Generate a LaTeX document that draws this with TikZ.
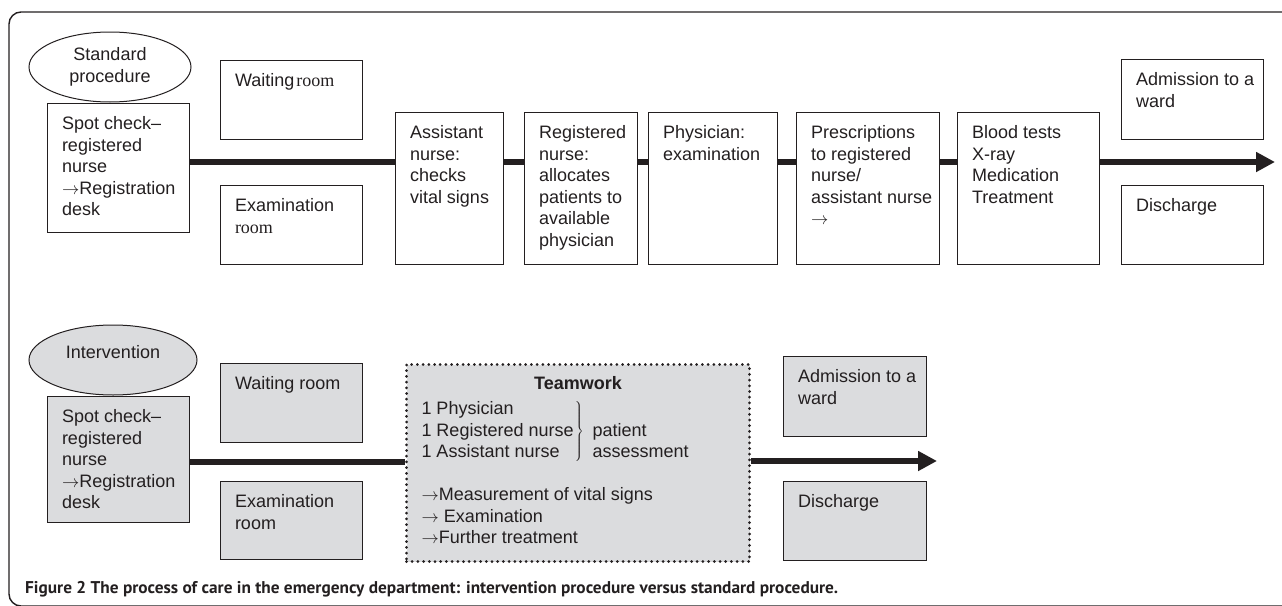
\documentclass[tikz,border=0pt]{standalone}
\usepackage{fontspec}
\setmainfont{Liberation Sans}
\newfontfamily\serifroom{Liberation Serif}
\newfontfamily\captionfont{PT Sans}
\usepackage{graphicx}
\usepackage{xcolor}
\usetikzlibrary{shapes.geometric, arrows.meta, positioning, calc}

\definecolor{boxgray}{RGB}{219,220,222}
\definecolor{ink}{RGB}{35,31,32}

% text of a box: top aligned, with a fixed inset on the left
\newcommand{\boxtext}[3]{\parbox[c][\dimexpr#2-26pt\relax][t]{#1}{\raggedright\leftskip=14.5pt\relax #3}}

\begin{document}
\begin{tikzpicture}[
    x=1pt, y=-1pt,
    font=\fontsize{18}{21.5}\selectfont,
    cell/.style={rectangle, draw=ink, line width=1pt, anchor=north west, inner xsep=0pt, inner ysep=13pt, text=ink},
    grey/.style={cell, fill=boxgray},
    oval/.style={ellipse, draw=ink, line width=1pt, inner sep=0pt, minimum width=#1, minimum height=70pt, align=center, text=ink},
    team/.style={rectangle, draw=ink, fill=boxgray, line width=3pt, dash pattern=on 0pt off 5.7pt, line cap=round, anchor=north west, inner xsep=0pt, inner ysep=12pt, text=ink},
    flow/.style={draw=ink, line width=6.5pt},
    arrow/.style={flow, -{Triangle[length=19pt, width=19pt]}}
]
\useasboundingbox (0,0) rectangle (1282,605);

% frame
\draw[ink, line width=1.4pt, rounded corners=12pt] (1300,12) -- (9,12) -- (9,606) -- (1300,606);

% standard procedure
\node[oval=162pt] (std) at (110,67) {Standard\\procedure};
\node[cell] (spot) at (47,103) {\boxtext{142pt}{129pt}{Spot check--\\registered\\nurse\\$\rightarrow$Registration\\desk}};
\node[cell] (wait) at (220,60) {\boxtext{142pt}{79pt}{Waiting\kern2pt{\serifroom room}}};
\node[cell] (exam) at (220,185) {\boxtext{142pt}{79pt}{Examination\\{\serifroom room}}};
\node[cell] (assist) at (395,112) {\boxtext{108pt}{152pt}{Assistant\\nurse:\\checks\\vital signs}};
\node[cell] (regn) at (524,112) {\boxtext{113pt}{152pt}{Registered\\nurse:\\allocates\\patients to\\available\\physician}};
\node[cell] (phys) at (648,112) {\boxtext{129pt}{152pt}{Physician:\\examination}};
\node[cell] (presc) at (796,112) {\boxtext{143pt}{152pt}{Prescriptions\\to registered\\nurse/\\assistant nurse\\$\rightarrow$}};
\node[cell] (blood) at (957,112) {\boxtext{142pt}{152pt}{Blood tests\\X-ray\\Medication\\Treatment}};
\node[cell] (admit) at (1121,59) {\boxtext{142pt}{80pt}{Admission to a\\ward}};
\node[cell] (disch) at (1121,185) {\boxtext{142pt}{79pt}{Discharge}};

\coordinate (row1) at (0,162);
\coordinate (tip1) at (1275,162);
\foreach \a/\b in {spot/assist, assist/regn, regn/phys, phys/presc, presc/blood}
    \draw[flow] (\a.east |- row1) -- (\b.west |- row1);
\draw[arrow] (blood.east |- row1) -- (tip1);

% intervention
\node[oval=168pt, fill=boxgray, text depth=17pt] (intv) at (113,360) {Intervention};
\node[grey] (spot2) at (47,396) {\boxtext{142pt}{126pt}{Spot check--\\registered\\nurse\\$\rightarrow$Registration\\desk}};
\node[grey] (wait2) at (220,363) {\boxtext{142pt}{79pt}{Waiting room}};
\node[grey] (exam2) at (220,481) {\boxtext{142pt}{78pt}{Examination\\room}};
\node[team] (work) at (405,363) {\parbox[c][173pt][t]{343pt}{%
    {\centering\textbf{Teamwork}\par}\vspace{3.5pt}
    \raggedright\leftskip=15pt
    \begin{tabular}[t]{@{}l@{}l@{\hspace{9pt}}l@{}}
    1 Physician & & \\
    1 Registered nurse & \smash{$\left.\vrule height 28pt depth 28pt width 0pt\right\}$} & patient\\
    1 Assistant nurse & & assessment
    \end{tabular}\par
    \vspace{22.5pt}
    $\rightarrow$Measurement of vital signs\\
    $\rightarrow$ Examination\\
    $\rightarrow$Further treatment}};
\node[grey] (admit2) at (783,356) {\boxtext{143pt}{80pt}{Admission to a\\ward}};
\node[grey] (disch2) at (783,481) {\boxtext{143pt}{79pt}{Discharge}};

\coordinate (row2) at (0,462);
\coordinate (tip2) at (937,461);
\draw[flow] (spot2.east |- row2) -- (work.west |- row2);
\draw[arrow] (work.east |- tip2) -- (tip2);

% caption
\node[anchor=base west, inner sep=0pt, text=ink, font=\captionfont\fontsize{17}{20}\selectfont\bfseries] (caption) at (25,593)
    {\resizebox{813pt}{\height}{Figure 2 The process of care in the emergency department: intervention procedure versus standard procedure.}};

\end{tikzpicture}
\end{document}
